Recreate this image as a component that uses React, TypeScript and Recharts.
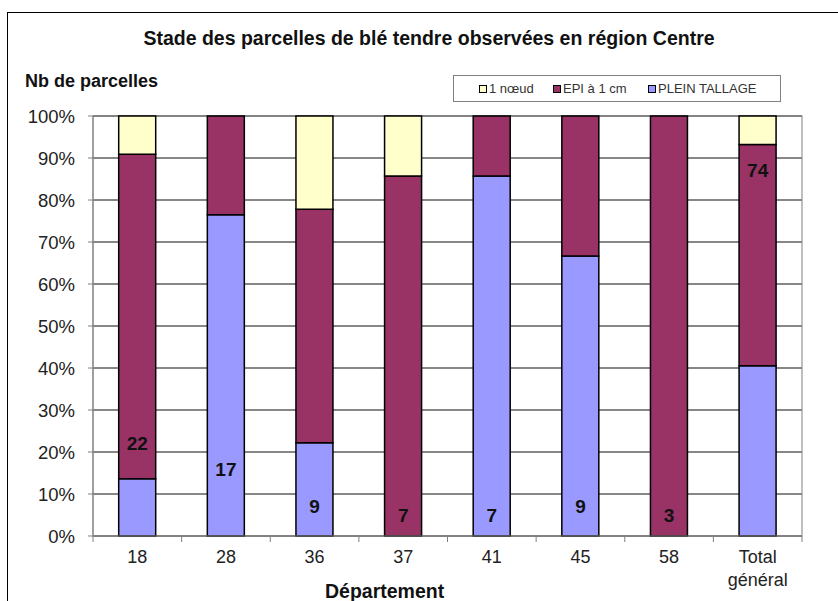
import { ComposedChart, Bar, Line, XAxis, YAxis, CartesianGrid, LabelList, usePlotArea } from 'recharts'

const categories = ['18', '28', '36', '37', '41', '45', '58', 'Total général']
const pleinTallage = [3, 13, 2, 0, 6, 6, 0, 30]
const epi = [17, 4, 5, 6, 1, 3, 3, 39]
const unNoeud = [2, 0, 2, 1, 0, 0, 0, 5]
const totals = [22, 17, 9, 7, 7, 9, 3, 74]
// height (in %) where the parcel count is printed on each bar
const labelPos = [22, 16, 7, 5, 5, 7, 5, 87]
const yTicks = [0, 10, 20, 30, 40, 50, 60, 70, 80, 90, 100]

const FONT = '"Liberation Sans", Arial, sans-serif'

const SERIES = [
  { key: 'unNoeud', name: '1 nœud', color: '#FFFFCC', w: 74 },
  { key: 'epi', name: 'EPI à 1 cm', color: '#993366', w: 95 },
  { key: 'plein', name: 'PLEIN TALLAGE', color: '#9999FF', w: 120 },
]

const rows = categories.map((name, i) => {
  const sum = pleinTallage[i] + epi[i] + unNoeud[i]
  return {
    name,
    plein: (pleinTallage[i] / sum) * 100,
    epi: (epi[i] / sum) * 100,
    unNoeud: (unNoeud[i] / sum) * 100,
    total: totals[i],
    labelPos: labelPos[i],
  }
})

function PlotBorder() {
  const area = usePlotArea()
  if (!area) return null
  return <rect x={area.x} y={area.y} width={area.width} height={area.height} fill="none" stroke="#808080" strokeWidth={1} />
}

function XTick(props: any) {
  const { x, y, payload, index, visibleTicksCount } = props
  const off = payload.offset || 0
  const axisY = y - 10
  const lines = String(payload.value).split(' ')
  const isLast = index === visibleTicksCount - 1
  return (
    <g>
      <line x1={x - off} x2={x - off} y1={axisY} y2={axisY + 6} stroke="#808080" />
      {isLast && <line x1={x + off} x2={x + off} y1={axisY} y2={axisY + 6} stroke="#808080" />}
      <text x={x} y={y} textAnchor="middle" fontSize={18} fontFamily={FONT} fill="#222">
        {lines.map((l, i) => (
          <tspan key={i} x={x} dy={i === 0 ? 17 : 23}>{l}</tspan>
        ))}
      </text>
    </g>
  )
}

function LegendBox() {
  return (
    <div style={{ position: 'absolute', left: 453, top: 75, boxSizing: 'border-box', width: 328, height: 27, border: '1px solid #808080', background: '#fff', display: 'flex', alignItems: 'center', paddingLeft: 25, fontFamily: FONT, fontSize: 13, color: '#333' }}>
      {SERIES.map((s) => (
        <div key={s.key} style={{ display: 'flex', alignItems: 'center', width: s.w, whiteSpace: 'nowrap' }}>
          <span style={{ display: 'inline-block', width: 6, height: 6, background: s.color, border: '1px solid #000', marginRight: 2 }} />
          <span>{s.name}</span>
        </div>
      ))}
    </div>
  )
}

export default function App() {
  return (
    <div style={{ position: 'absolute', left: 0, top: 0, width: 838, height: 601, background: '#fff', overflow: 'hidden', fontFamily: FONT }}>
      <div style={{ position: 'absolute', left: 7, top: 12, width: 840, height: 600, borderTop: '1px solid #000', borderLeft: '1px solid #000' }} />
      <ComposedChart
        width={838}
        height={601}
        data={rows}
        margin={{ top: 116, right: 36, bottom: 20, left: 0 }}
        barCategoryGap="29%"
        style={{ position: 'absolute', left: 0, top: 0 }}
      >
        <CartesianGrid vertical={false} stroke="#111" />
        <XAxis
          dataKey="name"
          interval={0}
          height={45}
          tickSize={6}
          tickMargin={4}
          tickLine={false}
          axisLine={{ stroke: '#808080' }}
          tick={<XTick />}
        />
        <YAxis
          domain={[0, 100]}
          ticks={yTicks}
          tickFormatter={(v) => `${v}%`}
          width={93}
          tickSize={5}
          tickMargin={13}
          axisLine={{ stroke: '#808080' }}
          tickLine={{ stroke: '#808080' }}
          tick={{ fill: '#222', fontSize: 18.5, fontFamily: FONT }}
        />
        <PlotBorder />
        <Bar dataKey="plein" name="PLEIN TALLAGE" stackId="a" fill="#9999FF" stroke="#000" strokeWidth={1.5} isAnimationActive={false} />
        <Bar dataKey="epi" name="EPI à 1 cm" stackId="a" fill="#993366" stroke="#000" strokeWidth={1.5} isAnimationActive={false} />
        <Bar dataKey="unNoeud" name="1 nœud" stackId="a" fill="#FFFFCC" stroke="#000" strokeWidth={1.5} isAnimationActive={false} />
        <Line dataKey="labelPos" stroke="none" dot={false} activeDot={false} legendType="none" isAnimationActive={false}>
          <LabelList dataKey="total" position="center" fill="#111" fontSize={19} fontWeight="bold" fontFamily={FONT} />
        </Line>
      </ComposedChart>
      <LegendBox />
      <div style={{ position: 'absolute', left: 0, top: 27, width: 858, textAlign: 'center', fontWeight: 'bold', fontSize: 19.5, color: '#111' }}>
        Stade des parcelles de blé tendre observées en région Centre
      </div>
      <div style={{ position: 'absolute', left: 25, top: 71, fontWeight: 'bold', fontSize: 18, color: '#111' }}>
        Nb de parcelles
      </div>
      <div style={{ position: 'absolute', left: 325, top: 580, fontWeight: 'bold', fontSize: 19.5, color: '#111' }}>
        Département
      </div>
    </div>
  )
}
